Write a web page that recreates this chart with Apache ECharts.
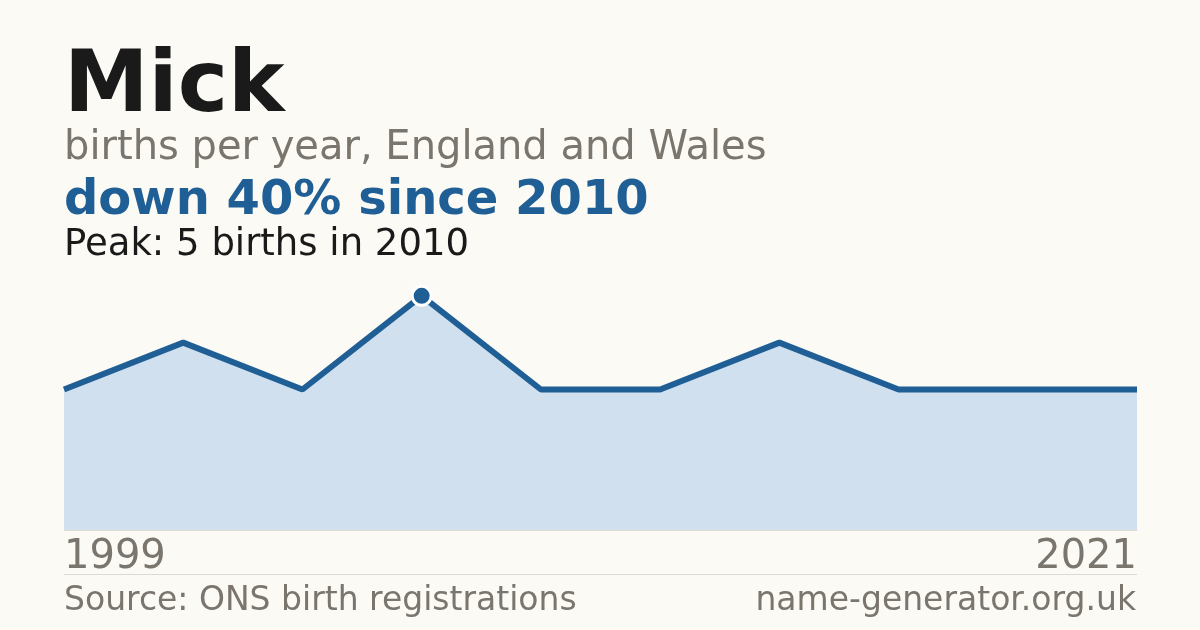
<!DOCTYPE html>
<html>
<head>
<meta charset="utf-8">
<script src="https://cdn.jsdelivr.net/npm/echarts@6/dist/echarts.min.js"></script>
<style>
  html, body { margin: 0; padding: 0; background: #fbfaf5; }
  #chart { width: 1200px; height: 630px; }
</style>
</head>
<body>
<div id="chart"></div>
<script>
// years that have a recorded count (only first and last are labelled)
const years = ['1999', '2003', '2006', '2010', '2012', '2014', '2016', '2018', '2019', '2021'];
const births = [3, 4, 3, 5, 3, 3, 4, 3, 3, 3];
const peakIndex = 3;

const GREY = '#7a756d';
const BLUE = '#1f5f96';
const FONT = 'DejaVu Sans';

const chart = echarts.init(document.getElementById('chart'));

// y is the middle of the em box; baseline sits ~0.3em lower
const text = (x, y, str, size, color, weight, align) => ({
  type: 'text',
  x: x,
  y: y,
  style: {
    text: str,
    fontFamily: FONT,
    fontSize: size,
    fontWeight: weight || 'normal',
    fill: color,
    align: align || 'left',
    verticalAlign: 'middle'
  }
});

chart.setOption({
  backgroundColor: '#fbfaf5',
  animation: false,
  grid: { left: 64, right: 63, top: 249, bottom: 100 },
  xAxis: {
    type: 'category',
    data: years,
    boundaryGap: false,
    axisTick: { show: false },
    axisLine: { lineStyle: { color: '#dddbd4', width: 1 } },
    axisLabel: {
      interval: (i) => i === 0 || i === years.length - 1,
      alignMinLabel: 'left',
      alignMaxLabel: 'right',
      color: GREY,
      fontFamily: FONT,
      fontSize: 40,
      margin: 8
    }
  },
  yAxis: {
    type: 'value',
    min: 0,
    max: 6,
    show: false,
    splitLine: { show: false }
  },
  series: [{
    type: 'line',
    data: births.map((v, i) => i === peakIndex
      ? { value: v, symbol: 'circle', symbolSize: 19,
          itemStyle: { color: BLUE, borderColor: '#ffffff', borderWidth: 3 } }
      : v),
    symbol: 'none',
    showSymbol: true,
    lineStyle: { color: BLUE, width: 6 },
    areaStyle: { color: '#d0e0ef', opacity: 1 },
    z: 2
  }],
  graphic: [
    text(64, 89, 'Mick', 85, '#1a1a1a', 'bold'),
    text(64, 149, 'births per year, England and Wales', 40, GREY),
    text(64, 202, 'down 40% since 2010', 48, BLUE, 'bold'),
    text(64, 245, 'Peak: 5 births in 2010', 37, '#1a1a1a'),
    {
      type: 'line',
      shape: { x1: 64, y1: 574.5, x2: 1137, y2: 574.5 },
      style: { stroke: '#dcdad3', lineWidth: 1 }
    },
    text(64, 601.5, 'Source: ONS birth registrations', 33, GREY),
    text(1136, 601.5, 'name-generator.org.uk', 33, GREY, 'normal', 'right')
  ]
});
</script>
</body>
</html>
